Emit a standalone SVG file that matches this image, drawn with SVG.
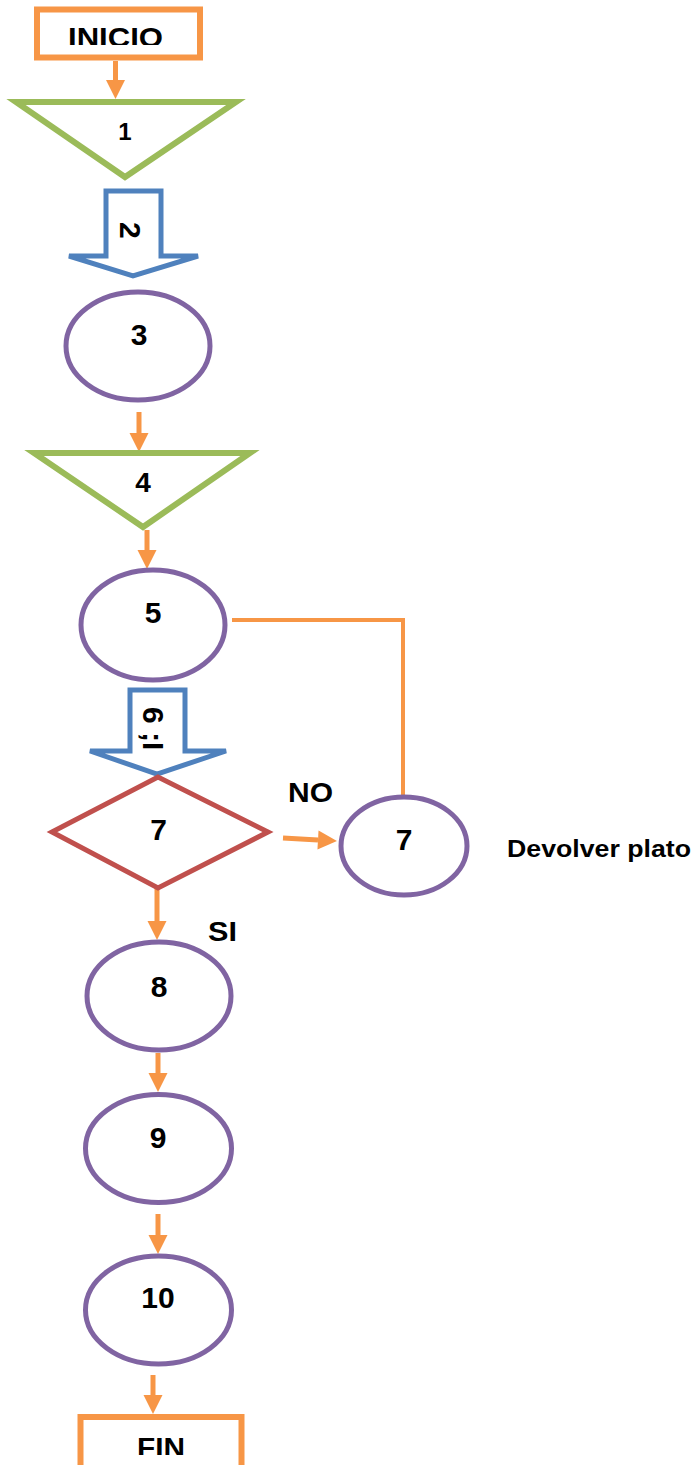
<svg xmlns="http://www.w3.org/2000/svg" width="696" height="1465" viewBox="0 0 696 1465">
<style>
.t{font-family:"Liberation Sans",Arial,sans-serif;font-weight:bold;fill:#000;}
.c{text-anchor:middle;}
.ell{fill:#fff;stroke:#8064A2;stroke-width:5;}
.tri{fill:#fff;stroke:#9BBB59;stroke-width:6;}
.blu{fill:#fff;stroke:#4F81BD;stroke-width:5;}
.box{fill:#fff;stroke:#F79646;stroke-width:6;}
.con{fill:none;stroke:#F79646;stroke-width:5;}
</style>
<defs>
<marker id="ah" markerUnits="userSpaceOnUse" markerWidth="20" markerHeight="20" viewBox="0 -10 19 20" refX="0" refY="0" orient="auto">
<path d="M0,-9.5 L19,0 L0,9.5 Z" fill="#F79646"/>
</marker>
<clipPath id="clipTop"><rect x="0" y="0" width="696" height="45"/></clipPath>
<clipPath id="clipFin"><rect x="0" y="1400" width="696" height="55"/></clipPath>
</defs>
<rect width="696" height="1465" fill="#fff"/>
<g id="connectors">
<line class="con" x1="115.5" y1="61" x2="115.5" y2="80" marker-end="url(#ah)"/>
<line class="con" x1="139" y1="412" x2="139" y2="433" marker-end="url(#ah)"/>
<line class="con" x1="147" y1="530" x2="147" y2="550" marker-end="url(#ah)"/>
<polyline fill="none" stroke="#F79646" stroke-width="4" points="232,620 403,620 403,797"/>
<line class="con" x1="283" y1="838" x2="318" y2="840" marker-end="url(#ah)"/>
<line class="con" x1="157" y1="873" x2="157" y2="921" marker-end="url(#ah)"/>
<line class="con" x1="158" y1="1053" x2="158" y2="1073" marker-end="url(#ah)"/>
<line class="con" x1="158" y1="1214" x2="158" y2="1235" marker-end="url(#ah)"/>
<line class="con" x1="153" y1="1375" x2="153" y2="1395" marker-end="url(#ah)"/>
</g>
<g id="inicio">
<rect class="box" x="37" y="9.5" width="163" height="48"/>
<text class="t c" x="115.5" y="47" font-size="28" textLength="95" lengthAdjust="spacingAndGlyphs" clip-path="url(#clipTop)">INICIO</text>
</g>
<g id="n1">
<polygon class="tri" points="16,102 236,102 125,177"/>
<text class="t c" x="125" y="140" font-size="24">1</text>
</g>
<g id="n2">
<path class="blu" d="M106,191 L161,191 L161,256 L198,256 L133,276 L69,256 L106,256 Z"/>
<text class="t" transform="translate(120,222) rotate(90)" x="0" y="0" font-size="30">2</text>
</g>
<g id="n3">
<ellipse class="ell" cx="138" cy="346" rx="72" ry="54"/>
<text class="t c" x="139" y="345" font-size="30">3</text>
</g>
<g id="n4">
<polygon class="tri" points="34,453 250,453 143,527"/>
<text class="t c" x="143" y="492" font-size="28">4</text>
</g>
<g id="n5">
<ellipse class="ell" cx="153" cy="625" rx="72" ry="55"/>
<text class="t c" x="153" y="623" font-size="30">5</text>
</g>
<g id="n6">
<path class="blu" d="M130,690 L185,690 L185,751 L226,751 L157,774 L90,751 L130,751 Z"/>
<text class="t" transform="translate(143,707) rotate(90)" x="0" y="0" font-size="30">6 ;I</text>
</g>
<g id="n7">
<polygon points="52,832 158,777 268,832 158,888" fill="#fff" stroke="#C0504D" stroke-width="5"/>
<text class="t c" x="158.5" y="840" font-size="30">7</text>
<text class="t" x="288" y="802" font-size="28" textLength="45" lengthAdjust="spacingAndGlyphs">NO</text>
<text class="t" x="208" y="941" font-size="28" textLength="29" lengthAdjust="spacingAndGlyphs">SI</text>
</g>
<g id="n7b">
<ellipse class="ell" cx="404" cy="846" rx="63" ry="49"/>
<text class="t c" x="404" y="850" font-size="30">7</text>
<text class="t" x="507" y="857" font-size="24" textLength="184" lengthAdjust="spacingAndGlyphs">Devolver plato</text>
</g>
<g id="n8">
<ellipse class="ell" cx="159" cy="996" rx="72" ry="54"/>
<text class="t c" x="159" y="997" font-size="30">8</text>
</g>
<g id="n9">
<ellipse class="ell" cx="158.5" cy="1148.5" rx="73" ry="54"/>
<text class="t c" x="158" y="1148" font-size="30">9</text>
</g>
<g id="n10">
<ellipse class="ell" cx="158.5" cy="1310" rx="73" ry="54"/>
<text class="t c" x="158" y="1308" font-size="30">10</text>
</g>
<g id="fin">
<rect class="box" x="80.5" y="1417" width="161" height="60"/>
<text class="t c" x="161" y="1457" font-size="28" textLength="48" lengthAdjust="spacingAndGlyphs" clip-path="url(#clipFin)">FIN</text>
</g>
</svg>
